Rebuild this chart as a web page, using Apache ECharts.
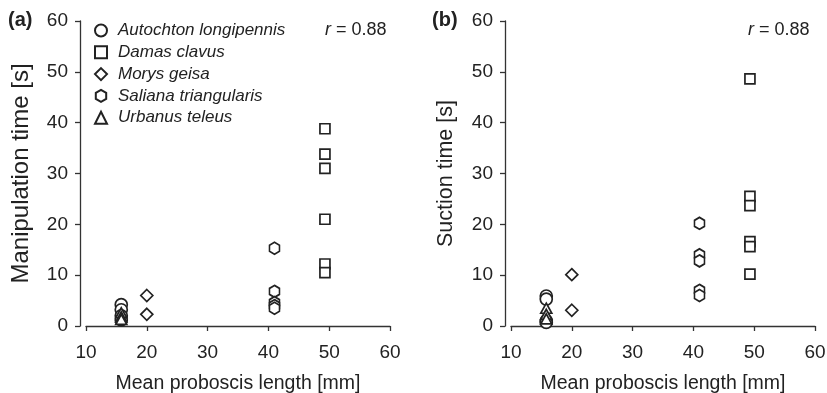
<!DOCTYPE html>
<html>
<head>
<meta charset="utf-8">
<script src="https://cdn.jsdelivr.net/npm/echarts@6/dist/echarts.min.js"></script>
<style>html,body{margin:0;padding:0;background:#fff}#c{width:827px;height:393px}</style>
</head>
<body>
<div id="c"></div>
<script>
// ---- data ----
const speciesNames = ['Autochton longipennis', 'Damas clavus', 'Morys geisa', 'Saliana triangularis', 'Urbanus teleus'];
const proboscisLength = [15.8, 49.3, 20.0, 41.0, 15.8];
const manipAutochton = [4.2, 3.2, 2.0, 1.2];
const manipDamas = [38.8, 33.8, 31.0, 21.0, 12.2, 10.5];
const manipMorys = [6.0, 2.3];
const manipSaliana = [15.3, 6.8, 4.6, 4.0, 3.5];
const manipUrbanus = [2.6, 1.8, 1.3];
const suctAutochton = [5.9, 5.3, 1.0, 0.7];
const suctDamas = [48.6, 25.5, 23.7, 16.6, 15.6, 10.2];
const suctMorys = [10.1, 3.1];
const suctSaliana = [20.2, 14.0, 12.8, 7.0, 6.0];
const suctUrbanus = [3.5, 2.3, 1.4];
const xTicks = [10, 20, 30, 40, 50, 60];
const yTicks = [0, 10, 20, 30, 40, 50, 60];
const rText = 'r = 0.88';

const manip = [manipAutochton, manipDamas, manipMorys, manipSaliana, manipUrbanus];
const suct = [suctAutochton, suctDamas, suctMorys, suctSaliana, suctUrbanus];
const hexPath = 'path://M0,-1L0.866,-0.5L0.866,0.5L0,1L-0.866,0.5L-0.866,-0.5Z';
const symbols = ['circle', 'rect', 'diamond', hexPath, 'triangle'];
const sizes = [12, 10, [12, 12], [10, 12], [11, 10]];

const ink = '#222';
const font = 'Liberation Sans, Arial, sans-serif';

function xAxis(gi) {
  return {
    type: 'value', gridIndex: gi, min: xTicks[0], max: xTicks[xTicks.length - 1], interval: 10, offset: 6,
    name: 'Mean proboscis length [mm]', nameLocation: 'middle', nameGap: 42,
    nameTextStyle: { fontSize: 19.5, color: ink, fontFamily: font },
    axisLine: { show: true, lineStyle: { color: '#333', width: 1.3 } },
    axisTick: { show: true, length: 5, lineStyle: { color: '#333', width: 1.3 } },
    axisLabel: { fontSize: 19, color: ink, fontFamily: font, margin: 11 },
    splitLine: { show: false }
  };
}
function yAxis(gi, name, fs, gap) {
  return {
    type: 'value', gridIndex: gi, min: yTicks[0], max: yTicks[yTicks.length - 1], interval: 10, offset: 6,
    name: name, nameLocation: 'middle', nameGap: gap,
    nameTextStyle: { fontSize: fs, color: ink, fontFamily: font },
    axisLine: { show: true, lineStyle: { color: '#333', width: 1.3 } },
    axisTick: { show: true, length: 5, lineStyle: { color: '#333', width: 1.3 } },
    axisLabel: { fontSize: 19, color: ink, fontFamily: font, margin: 12 },
    splitLine: { show: false }
  };
}

const series = [];
[manip, suct].forEach((set, gi) => {
  speciesNames.forEach((nm, i) => {
    series.push({
      type: 'scatter', name: nm, xAxisIndex: gi, yAxisIndex: gi,
      symbol: symbols[i], symbolSize: sizes[i],
      itemStyle: { color: '#fff', borderColor: ink, borderWidth: 1.7, opacity: 1 },
      emphasis: { disabled: true },
      data: set[i].map(v => [proboscisLength[i], v])
    });
  });
});

const richR = { i: { fontStyle: 'italic', fontSize: 18, fontFamily: font, fill: ink } };
const chart = echarts.init(document.getElementById('c'));
chart.setOption({
  animation: false,
  backgroundColor: '#fff',
  grid: [
    { left: 86, top: 21, width: 304, height: 305, outerBoundsMode: 'none', containLabel: false },
    { left: 511, top: 21, width: 304, height: 305, outerBoundsMode: 'none', containLabel: false }
  ],
  xAxis: [xAxis(0), xAxis(1)],
  yAxis: [yAxis(0, 'Manipulation time [s]', 24, 47), yAxis(1, 'Suction time [s]', 21.5, 48)],
  legend: {
    orient: 'vertical', left: 94, top: 22, padding: 0,
    itemWidth: 12, itemHeight: 12, itemGap: 4.8,
    selectedMode: false,
    data: speciesNames,
    textStyle: { fontSize: 17, fontStyle: 'italic', color: ink, fontFamily: font, padding: [0, 0, 0, 6] }
  },
  graphic: [
    { type: 'text', left: 8, top: 10, style: { text: '(a)', font: 'bold 20px ' + font, fill: ink } },
    { type: 'text', left: 432, top: 10, style: { text: '(b)', font: 'bold 20px ' + font, fill: ink } },
    { type: 'text', left: 325, top: 21, style: { text: '{i|r} = 0.88', font: '18px ' + font, fill: ink, rich: richR } },
    { type: 'text', left: 748, top: 21, style: { text: '{i|r} = 0.88', font: '18px ' + font, fill: ink, rich: richR } }
  ],
  series: series
});
</script>
</body>
</html>
